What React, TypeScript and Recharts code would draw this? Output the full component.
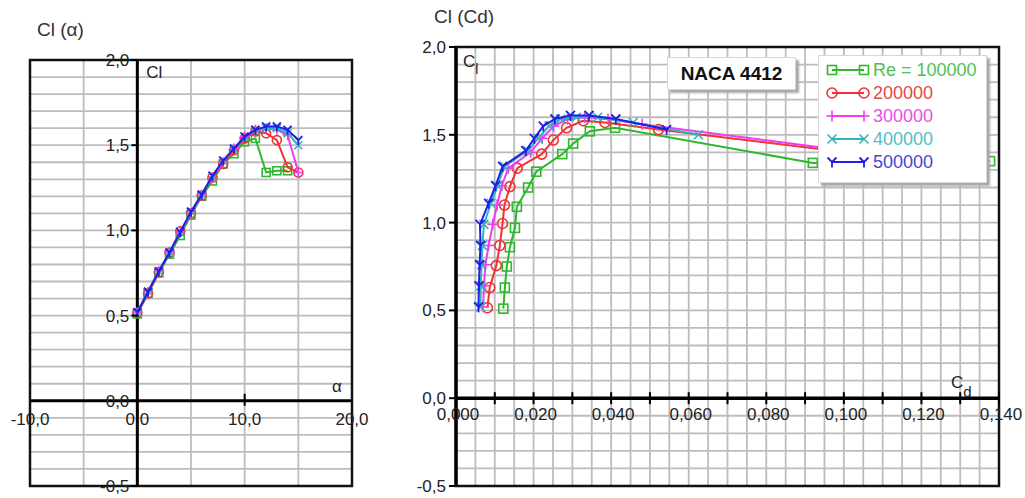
import React from 'react';
import {
  ScatterChart,
  Scatter,
  XAxis,
  YAxis,
  CartesianGrid,
  ReferenceLine,
  ReferenceDot,
  ReferenceArea,
  Legend,
} from 'recharts';

// ---------- data ----------
const ALPHA = [0, 1, 2, 3, 4, 5, 6, 7, 8, 9, 10, 11, 12, 13, 14, 15];

const CL_RE100K = [0.51, 0.63, 0.75, 0.86, 0.97, 1.09, 1.2, 1.29, 1.39, 1.45, 1.52, 1.54, 1.34, 1.35, 1.35];
const CD_RE100K = [0.0122, 0.0126, 0.0131, 0.0139, 0.0152, 0.0157, 0.0186, 0.0207, 0.0274, 0.0302, 0.0345, 0.041, 0.092, 0.115, 0.1377];

const CL_RE200K = [0.515, 0.63, 0.755, 0.87, 0.995, 1.1, 1.205, 1.31, 1.39, 1.47, 1.54, 1.58, 1.57, 1.53, 1.37, 1.34];
const CD_RE200K = [0.0081, 0.0087, 0.0104, 0.0113, 0.012, 0.0125, 0.0139, 0.0158, 0.0221, 0.0251, 0.0285, 0.0328, 0.0384, 0.0522, 0.112, 0.128];

const CL_RE300K = [0.52, 0.64, 0.76, 0.87, 0.99, 1.1, 1.21, 1.31, 1.4, 1.48, 1.55, 1.59, 1.6, 1.59, 1.56, 1.34];
const CD_RE300K = [0.007, 0.0072, 0.0076, 0.0084, 0.0095, 0.0106, 0.0118, 0.0135, 0.0192, 0.0222, 0.0252, 0.0288, 0.0332, 0.0392, 0.048, 0.125];

const CL_RE400K = [0.52, 0.64, 0.76, 0.87, 0.99, 1.11, 1.21, 1.32, 1.41, 1.48, 1.55, 1.59, 1.6, 1.6, 1.57, 1.5];
const CD_RE400K = [0.0063, 0.0064, 0.0066, 0.0068, 0.0072, 0.009, 0.0107, 0.0125, 0.0185, 0.0212, 0.024, 0.027, 0.031, 0.0365, 0.0457, 0.0625];

const CL_RE500K = [0.52, 0.64, 0.76, 0.87, 0.99, 1.11, 1.21, 1.32, 1.41, 1.48, 1.55, 1.59, 1.61, 1.61, 1.59, 1.53];
const CD_RE500K = [0.0058, 0.0059, 0.0061, 0.0063, 0.0062, 0.0084, 0.0102, 0.012, 0.018, 0.0202, 0.0225, 0.0255, 0.0295, 0.0343, 0.0412, 0.0543];

const SERIES_NAMES = ['Re = 100000', '200000', '300000', '400000', '500000'];

// tick / grid values
const LEFT_X_GRID = [-10, -5, 0, 5, 10, 15, 20];
const LEFT_X_LABELS = [-10, 0, 10, 20];
const CL_GRID = [-0.5, -0.4, -0.3, -0.2, -0.1, 0, 0.1, 0.2, 0.3, 0.4, 0.5, 0.6, 0.7, 0.8, 0.9, 1.0, 1.1, 1.2, 1.3, 1.4, 1.5, 1.6, 1.7, 1.8, 1.9, 2.0];
const CL_LABELS = [-0.5, 0, 0.5, 1.0, 1.5, 2.0];
const CD_GRID = Array.from({ length: 29 }, (_, i) => Math.round(i * 5) / 1000);
const CD_LABELS = [0, 0.02, 0.04, 0.06, 0.08, 0.1, 0.12, 0.14];
const CD_TICKS = [0, 0.01, 0.02, 0.03, 0.04, 0.05, 0.06, 0.07, 0.08, 0.09, 0.1, 0.11, 0.12, 0.13, 0.14];

// ---------- styles ----------
type MarkerKind = 'square' | 'circle' | 'plus' | 'cross' | 'tri';
const STYLE: { color: string; text: string; marker: MarkerKind }[] = [
  { color: '#2db82d', text: '#52bf52', marker: 'square' },
  { color: '#f03232', text: '#e94545', marker: 'circle' },
  { color: '#f03cf0', text: '#ea4ce6', marker: 'plus' },
  { color: '#33b3b8', text: '#4bbfc4', marker: 'cross' },
  { color: '#1e1ee6', text: '#4545d6', marker: 'tri' },
];

const CLS = [CL_RE100K, CL_RE200K, CL_RE300K, CL_RE400K, CL_RE500K];
const CDS = [CD_RE100K, CD_RE200K, CD_RE300K, CD_RE400K, CD_RE500K];

const FONT = '"Liberation Sans", Arial, sans-serif';
const GRID = '#bcbcbc';
const fmt = (v: number, d: number) => v.toFixed(d).replace('.', ',');

// grid lines at every CL_GRID value, positioned with the y axis' own scale
function clGridGen(args: any) {
  const sc = args && args.yAxis && args.yAxis.scale;
  if (typeof sc === 'function') return CL_GRID.map((v) => sc(v));
  const off = args.offset;
  return CL_GRID.map((v) => off.top + (off.height * (2 - v)) / 2.5);
}

function Marker({ kind, cx, cy, color, s = 4.5 }: { kind: MarkerKind; cx: number; cy: number; color: string; s?: number }) {
  if (cx == null || cy == null) return null;
  switch (kind) {
    case 'square':
      return <rect x={cx - s} y={cy - s} width={2 * s} height={2 * s} fill="none" stroke={color} strokeWidth={1.6} />;
    case 'circle':
      return <circle cx={cx} cy={cy} r={s + 0.5} fill="none" stroke={color} strokeWidth={1.6} />;
    case 'plus':
      return (
        <g stroke={color} strokeWidth={1.6}>
          <line x1={cx - s - 1} x2={cx + s + 1} y1={cy} y2={cy} />
          <line x1={cx} x2={cx} y1={cy - s - 1} y2={cy + s + 1} />
        </g>
      );
    case 'cross':
      return (
        <g stroke={color} strokeWidth={1.6}>
          <line x1={cx - s} y1={cy - s} x2={cx + s} y2={cy + s} />
          <line x1={cx - s} y1={cy + s} x2={cx + s} y2={cy - s} />
        </g>
      );
    default:
      return (
        <g stroke={color} strokeWidth={1.8}>
          <line x1={cx} y1={cy} x2={cx - s} y2={cy - s} />
          <line x1={cx} y1={cy} x2={cx + s} y2={cy - s} />
          <line x1={cx} y1={cy} x2={cx} y2={cy + s + 1} />
        </g>
      );
  }
}

const leftData = CLS.map((cl) => cl.map((c, i) => ({ x: ALPHA[i], y: c })));
const rightData = CLS.map((cl, k) => cl.map((c, i) => ({ x: CDS[k][i], y: c })));

const TXT = { fontFamily: FONT, fontSize: 17, fill: '#222' } as const;

function LegendContent(props: any) {
  const payload = [...((props && props.payload) || [])].sort(
    (a: any, b: any) => SERIES_NAMES.indexOf(a.value) - SERIES_NAMES.indexOf(b.value)
  );
  return (
    <div
      style={{
        width: 169,
        boxSizing: 'border-box',
        background: '#fff',
        border: '1px solid #d8d8d8',
        boxShadow: '3px 3px 2px #a8a8a8',
        padding: '2px 0 9px 0',
        fontFamily: FONT,
      }}
    >
      {payload.map((p: any) => {
        const idx = SERIES_NAMES.indexOf(p.value);
        const st = STYLE[idx >= 0 ? idx : 0];
        return (
          <div key={p.value} style={{ display: 'flex', alignItems: 'center', height: 23 }}>
            <svg width={54} height={20} style={{ flex: 'none' }}>
              <line x1={13} x2={45} y1={10} y2={10} stroke={st.color} strokeWidth={2} />
              <Marker kind={st.marker} cx={13} cy={10} color={st.color} />
              <Marker kind={st.marker} cx={45} cy={10} color={st.color} />
            </svg>
            <span style={{ color: st.text, fontSize: 18, lineHeight: '20px' }}>{p.value}</span>
          </div>
        );
      })}
    </div>
  );
}

function LeftChart() {
  return (
    <div style={{ position: 'absolute', left: 0, top: 0 }}>
      <ScatterChart width={380} height={498} margin={{ top: 60, right: 28, bottom: 12, left: 30 }}>
        <XAxis type="number" dataKey="x" domain={[-10, 20]} ticks={LEFT_X_GRID} hide />
        <YAxis type="number" dataKey="y" domain={[-0.5, 2]} ticks={CL_GRID} interval={0} hide />
        <CartesianGrid stroke={GRID} strokeWidth={1.8} horizontalCoordinatesGenerator={clGridGen} />
        <ReferenceArea x1={-10} x2={20} y1={-0.5} y2={2} fill="none" stroke="#111" strokeWidth={2.5} />
        <ReferenceLine x={0} stroke="#000" strokeWidth={3} />
        <ReferenceLine y={0} stroke="#000" strokeWidth={3} />
        {STYLE.map((st, k) => (
          <Scatter
            key={'l' + k}
            name={SERIES_NAMES[k]}
            data={leftData[k]}
            fill={st.color}
            line={{ stroke: st.color, strokeWidth: 2 }}
            lineType="joint"
            isAnimationActive={false}
            shape={(p: any) => <Marker kind={st.marker} cx={p.cx} cy={p.cy} color={st.color} s={4} />}
          />
        ))}
        {LEFT_X_LABELS.map((v) => (
          <ReferenceDot
            key={'lx' + v}
            x={v}
            y={0}
            r={0}
            ifOverflow="visible"
            shape={(p: any) => (
              <g>
                {v === 10 ? <line x1={p.cx} x2={p.cx} y1={p.cy - 7} y2={p.cy + 5} stroke="#000" strokeWidth={2} /> : null}
                <text x={p.cx} y={p.cy + 24} textAnchor="middle" {...TXT}>
                  {fmt(v, 1)}
                </text>
              </g>
            )}
          />
        ))}
        {CL_LABELS.map((v) => (
          <ReferenceDot
            key={'ly' + v}
            x={0}
            y={v}
            r={0}
            ifOverflow="visible"
            shape={(p: any) => (
              <g>
                <line x1={p.cx - 6} x2={p.cx} y1={p.cy} y2={p.cy} stroke="#000" strokeWidth={2} />
                <text x={p.cx - 8} y={p.cy + 6} textAnchor="end" {...TXT}>
                  {fmt(v, 1)}
                </text>
              </g>
            )}
          />
        ))}
        <ReferenceDot
          x={0}
          y={2}
          r={0}
          ifOverflow="visible"
          shape={(p: any) => (
            <text x={p.cx + 9} y={p.cy + 18} {...TXT}>
              Cl
            </text>
          )}
        />
        <ReferenceDot
          x={20}
          y={0}
          r={0}
          ifOverflow="visible"
          shape={(p: any) => (
            <text x={p.cx - 20} y={p.cy - 9} {...TXT}>
              α
            </text>
          )}
        />
      </ScatterChart>
    </div>
  );
}

function RightChart() {
  return (
    <div style={{ position: 'absolute', left: 410, top: 0 }}>
      <ScatterChart width={615} height={498} margin={{ top: 47, right: 26, bottom: 12, left: 46 }}>
        <XAxis type="number" dataKey="x" domain={[0, 0.14]} ticks={CD_GRID} interval={0} hide />
        <YAxis type="number" dataKey="y" domain={[-0.5, 2]} ticks={CL_GRID} interval={0} hide />
        <CartesianGrid stroke={GRID} strokeWidth={1.8} horizontalCoordinatesGenerator={clGridGen} />
        <ReferenceArea x1={0} x2={0.14} y1={-0.5} y2={2} fill="none" stroke="#111" strokeWidth={2.5} />
        <ReferenceLine x={0} stroke="#000" strokeWidth={3.5} />
        <ReferenceLine y={0} stroke="#000" strokeWidth={3.5} />
        {STYLE.map((st, k) => (
          <Scatter
            key={'r' + k}
            name={SERIES_NAMES[k]}
            data={rightData[k]}
            fill={st.color}
            line={{ stroke: st.color, strokeWidth: 2 }}
            lineType="joint"
            isAnimationActive={false}
            shape={(p: any) => <Marker kind={st.marker} cx={p.cx} cy={p.cy} color={st.color} />}
          />
        ))}
        {CD_TICKS.map((v) => (
          <ReferenceDot
            key={'rt' + v}
            x={v}
            y={0}
            r={0}
            ifOverflow="visible"
            shape={(p: any) => <line x1={p.cx} x2={p.cx} y1={p.cy - 6} y2={p.cy + 6} stroke="#000" strokeWidth={2} />}
          />
        ))}
        {CD_LABELS.map((v) => (
          <ReferenceDot
            key={'rx' + v}
            x={v}
            y={0}
            r={0}
            ifOverflow="visible"
            shape={(p: any) => (
              <text x={p.cx + 2} y={p.cy + 22} textAnchor="middle" {...TXT}>
                {fmt(v, 3)}
              </text>
            )}
          />
        ))}
        {CL_LABELS.map((v) => (
          <ReferenceDot
            key={'ry' + v}
            x={0}
            y={v}
            r={0}
            ifOverflow="visible"
            shape={(p: any) => (
              <g>
                <line x1={p.cx - 7} x2={p.cx} y1={p.cy} y2={p.cy} stroke="#000" strokeWidth={2} />
                <text x={p.cx - 10} y={p.cy + 6} textAnchor="end" {...TXT}>
                  {fmt(v, 1)}
                </text>
              </g>
            )}
          />
        ))}
        <ReferenceDot
          x={0}
          y={2}
          r={0}
          ifOverflow="visible"
          shape={(p: any) => (
            <text x={p.cx + 7} y={p.cy + 20} {...TXT}>
              C<tspan fontSize={14} dy={7}>l</tspan>
            </text>
          )}
        />
        <ReferenceDot
          x={0.14}
          y={0}
          r={0}
          ifOverflow="visible"
          shape={(p: any) => (
            <text x={p.cx - 48} y={p.cy - 10} {...TXT}>
              C<tspan fontSize={15} dy={9}>d</tspan>
            </text>
          )}
        />
        <Legend
          layout="vertical"
          align="center"
          verticalAlign="middle"
          content={LegendContent}
          wrapperStyle={{ left: 408, top: 55, width: 169, height: 'auto' }}
        />
      </ScatterChart>
    </div>
  );
}

export default function App() {
  return (
    <div
      style={{
        position: 'absolute',
        left: 0,
        top: 0,
        width: 1025,
        height: 498,
        background: '#fff',
        fontFamily: FONT,
        overflow: 'hidden',
      }}
    >
      <svg width={1025} height={498} style={{ position: 'absolute', left: 0, top: 0 }}>
        <text x={37} y={36} fontFamily={FONT} fontSize={19} fill="#333">
          Cl (α)
        </text>
        <text x={434} y={23} fontFamily={FONT} fontSize={19} fill="#333">
          Cl (Cd)
        </text>
      </svg>
      <LeftChart />
      <RightChart />
      <div
        style={{
          position: 'absolute',
          left: 667,
          top: 57,
          width: 129,
          height: 33,
          boxSizing: 'border-box',
          background: '#fff',
          border: '1px solid #d8d8d8',
          boxShadow: '3px 3px 2px #a8a8a8',
          display: 'flex',
          alignItems: 'center',
          justifyContent: 'center',
          fontWeight: 'bold',
          fontSize: 19,
          color: '#111',
        }}
      >
        NACA 4412
      </div>
    </div>
  );
}
